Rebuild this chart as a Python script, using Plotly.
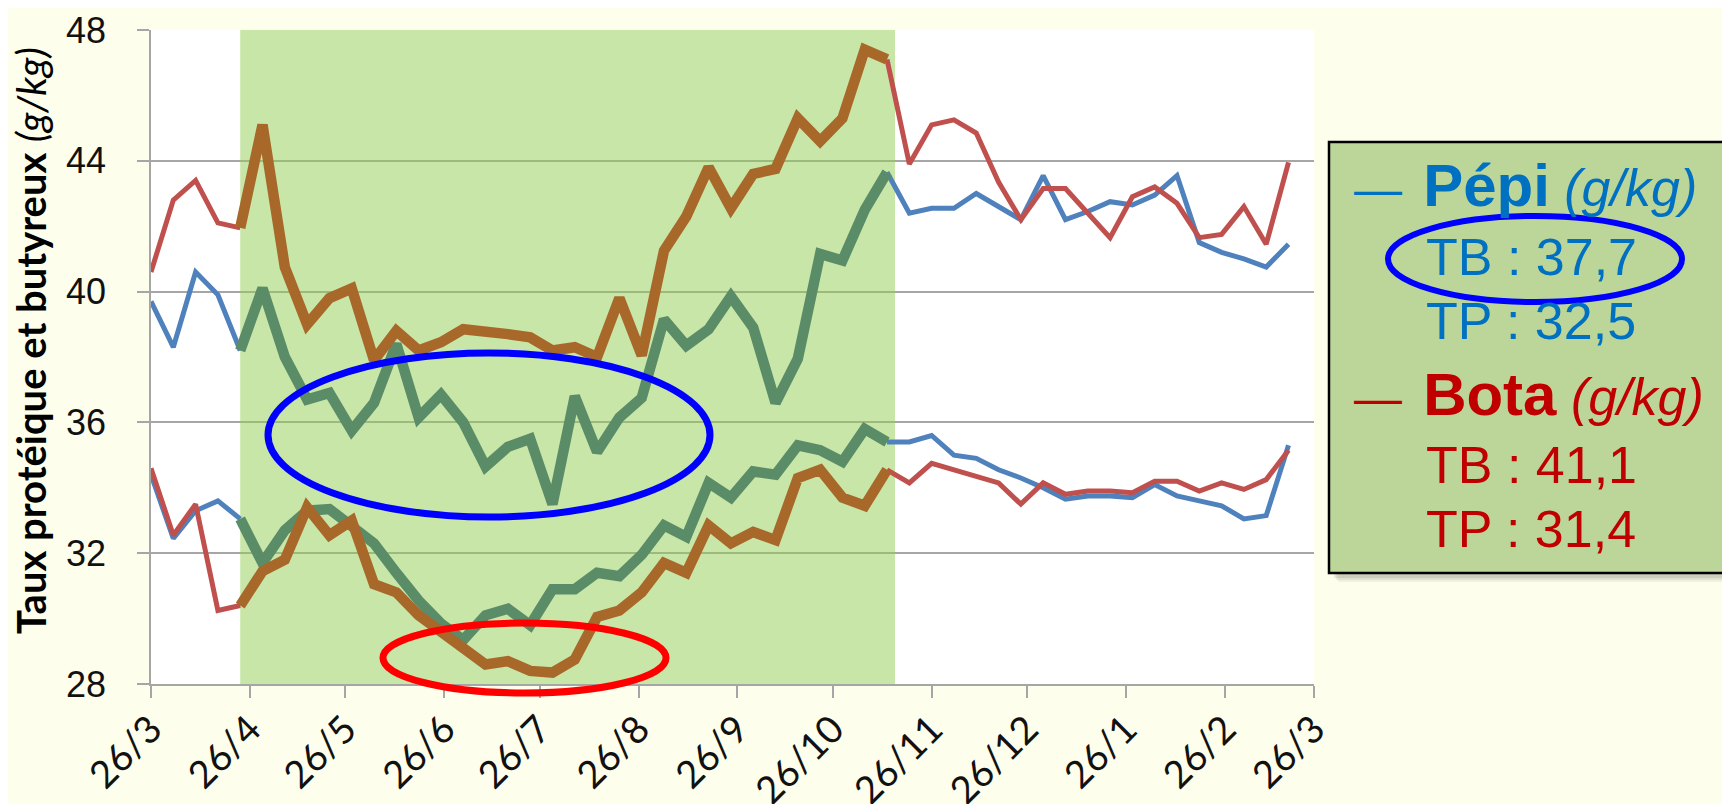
import plotly.graph_objects as go
import pandas as pd

# ---------------- data ----------------
START = "2012-03-26"
N_WEEKS = 52
TICK_LABELS = ["26/3", "26/4", "26/5", "26/6", "26/7", "26/8", "26/9",
               "26/10", "26/11", "26/12", "26/1", "26/2", "26/3"]

TB_PEPI = [39.7, 38.3, 40.6, 39.9, 38.2, 40.1, 38.0, 36.7, 36.9, 35.75,
           36.6, 38.4, 36.15, 36.85, 36.0, 34.65, 35.25, 35.5, 33.5, 36.8,
           35.1, 36.15, 36.75, 39.15, 38.35, 38.85, 39.85, 38.9, 36.6, 37.95,
           41.15, 40.95, 42.5, 43.65, 42.4, 42.55, 42.55, 43.0, 42.6, 42.2,
           43.55, 42.2, 42.45, 42.75, 42.65, 42.95, 43.55, 41.5, 41.2, 41.0,
           40.75, 41.45]
TB_BOTA = [40.6, 42.8, 43.4, 42.1, 41.95, 45.1, 40.75, 39.0, 39.8, 40.1,
           37.9, 38.8, 38.2, 38.45, 38.85, 38.8, 38.7, 38.6, 38.2, 38.3,
           38.0, 39.8, 38.05, 41.25, 42.3, 43.8, 42.55, 43.6, 43.75, 45.3,
           44.6, 45.3, 47.4, 47.1, 43.9, 45.1, 45.25, 44.85, 43.35, 42.2,
           43.15, 43.15, 42.4, 41.65, 42.9, 43.2, 42.7, 41.65, 41.75, 42.6,
           41.45, 43.95]
TP_PEPI = [34.4, 32.45, 33.3, 33.6, 33.05, 31.7, 32.7, 33.3, 33.35, 32.8,
           32.3, 31.4, 30.55, 29.85, 29.35, 30.1, 30.3, 29.8, 30.9, 30.9,
           31.4, 31.3, 31.95, 32.85, 32.5, 34.15, 33.7, 34.5, 34.4, 35.3,
           35.15, 34.8, 35.8, 35.4, 35.4, 35.6, 35.0, 34.9, 34.55, 34.3,
           34.0, 33.65, 33.75, 33.75, 33.7, 34.1, 33.75, 33.6, 33.45, 33.05,
           33.15, 35.3]
TP_BOTA = [34.6, 32.55, 33.5, 30.25, 30.4, 31.45, 31.8, 33.4, 32.55, 33.0,
           31.05, 30.8, 30.1, 29.6, 29.1, 28.6, 28.7, 28.4, 28.35, 28.75,
           30.05, 30.25, 30.8, 31.7, 31.4, 32.85, 32.3, 32.65, 32.4, 34.3,
           34.55, 33.7, 33.45, 34.55, 34.15, 34.75, 34.55, 34.35, 34.15, 33.5,
           34.15, 33.8, 33.9, 33.9, 33.85, 34.2, 34.2, 33.9, 34.15, 33.95,
           34.25, 35.15]

PERIOD_START, PERIOD_END = 4, 33   # indices of the highlighted grazing period

LEGEND_PEPI = ["Pépi", "TB : 37,7", "TP : 32,5"]
LEGEND_BOTA = ["Bota", "TB : 41,1", "TP : 31,4"]

# ---------------- style ----------------
W, H = 1730, 804
BODY = 8                                 # default page margin of the html body
L, R, T, B = 151, 1314, 30, 684          # plot area in window pixels
PW, PH = R - L, B - T

BLUE = "#4F81BD"
RED = "#C0504D"
GREEN_LINE = "#5A8C68"
BROWN = "#A8682A"
PAPER = "#FDFEEB"
GRID = "#A6A6A6"
PEPI_TXT = "#0070C0"
BOTA_TXT = "#C00000"
THIN, THICK = 5, 10.5


def px(x):
    return (x - L) / PW


def py(y):
    return (B - y) / PH


dates = pd.date_range(START, periods=N_WEEKS, freq="7D")
tickvals = pd.date_range(START, periods=len(TICK_LABELS), freq=pd.DateOffset(months=1))


def part(vals, inside):
    out = []
    for i, v in enumerate(vals):
        in_period = PERIOD_START <= i <= PERIOD_END
        if inside:
            out.append(v if in_period else None)
        else:
            out.append(v if (i <= PERIOD_START or i >= PERIOD_END) else None)
    return out


fig = go.Figure()

for vals, col in [(TB_PEPI, BLUE), (TP_PEPI, BLUE), (TB_BOTA, RED), (TP_BOTA, RED)]:
    fig.add_trace(go.Scatter(x=dates, y=part(vals, False), mode="lines",
                             line=dict(color=col, width=THIN), connectgaps=False,
                             showlegend=False, hoverinfo="skip"))
for vals, col in [(TB_PEPI, GREEN_LINE), (TP_PEPI, GREEN_LINE), (TB_BOTA, BROWN), (TP_BOTA, BROWN)]:
    fig.add_trace(go.Scatter(x=dates, y=part(vals, True), mode="lines",
                             line=dict(color=col, width=THICK), connectgaps=False,
                             showlegend=False, hoverinfo="skip"))

shapes = []
# highlighted period
x_end = dates[PERIOD_END] + pd.Timedelta(days=2.5)
shapes.append(dict(type="rect", xref="x", yref="y", x0=dates[PERIOD_START], x1=x_end,
                   y0=27.85, y1=48.1, fillcolor="rgba(145,205,79,0.5)",
                   line=dict(width=0), layer="between"))
# ellipses
shapes.append(dict(type="circle", xref="paper", yref="paper",
                   x0=px(268), x1=px(710), y0=py(517), y1=py(353),
                   line=dict(color="#0000FF", width=7), layer="above"))
shapes.append(dict(type="circle", xref="paper", yref="paper",
                   x0=px(383), x1=px(666), y0=py(693), y1=py(623),
                   line=dict(color="#FF0000", width=7), layer="above"))
# legend box with soft shadow
for k, a in [(9, 0.07), (7, 0.09), (5, 0.12)]:
    shapes.append(dict(type="rect", xref="paper", yref="paper",
                       x0=px(1329 + k), x1=px(1745), y0=py(573 + k), y1=py(141 + k),
                       fillcolor=f"rgba(70,70,50,{a})", line=dict(width=0), layer="above"))
shapes.append(dict(type="rect", xref="paper", yref="paper",
                   x0=px(1329), x1=px(1740), y0=py(573), y1=py(142),
                   fillcolor="#BCD69A", line=dict(color="black", width=2.5), layer="above"))
shapes.append(dict(type="circle", xref="paper", yref="paper",
                   x0=px(1388), x1=px(1682), y0=py(302), y1=py(216),
                   line=dict(color="#0000FF", width=6), layer="above"))

annotations = []
annotations.append(dict(
    xref="paper", yref="paper", x=px(31), y=py(341), textangle=-90,
    text="<b>Taux protéique et butyreux</b> <i>(g/kg)</i>", showarrow=False,
    font=dict(family="Lato", size=40, color="black"), xanchor="center", yanchor="middle"))


def legend_block(names, color, cap_center):
    head = ('<span style="font-size:48px">—</span><span style="font-size:76px"> </span>'
            f'<span style="font-size:60px;font-weight:bold">{names[0]}</span> '
            '<i>(g/kg)</i>')
    annotations.append(dict(xref="paper", yref="paper", x=px(1352), y=py(cap_center - 10),
                            text=head, showarrow=False, xanchor="left", yanchor="middle",
                            font=dict(family="Liberation Sans", size=52, color=color)))
    for j, line in enumerate(names[1:]):
        c = cap_center + 70 + j * 64
        annotations.append(dict(xref="paper", yref="paper", x=px(1424), y=py(c - 3),
                                text=line, showarrow=False, xanchor="left", yanchor="middle",
                                font=dict(family="Liberation Sans", size=52, color=color)))


legend_block(LEGEND_PEPI, PEPI_TXT, 190)
legend_block(LEGEND_BOTA, BOTA_TXT, 398)

fig.update_layout(
    width=W - BODY, height=H - BODY,
    margin=dict(l=L - BODY, r=W - R, t=T - BODY, b=H - B, pad=0),
    paper_bgcolor=PAPER, plot_bgcolor="white",
    shapes=shapes, annotations=annotations,
    showlegend=False,
)
fig.update_xaxes(
    automargin=False,
    range=[tickvals[0], tickvals[-1]], tickmode="array", tickvals=tickvals, ticktext=TICK_LABELS,
    tickangle=-45, ticks="outside", ticklen=12, tickcolor=GRID, tickwidth=1.5,
    showgrid=False, showline=True, linecolor=GRID, linewidth=1.5, zeroline=False,
    tickfont=dict(family="Lato", size=38, color="#111111"), ticklabelstandoff=-6,
)
fig.update_yaxes(
    automargin=False,
    range=[28, 48], dtick=4, tick0=28, ticks="outside", ticklen=12, tickcolor=GRID, tickwidth=1.5,
    showgrid=True, gridcolor=GRID, gridwidth=1.5, showline=True, linecolor=GRID, linewidth=1.5,
    zeroline=False, tickfont=dict(family="Liberation Sans", size=36, color="#111111"),
    ticklabelstandoff=24,
)

fig.write_html("out.html")
